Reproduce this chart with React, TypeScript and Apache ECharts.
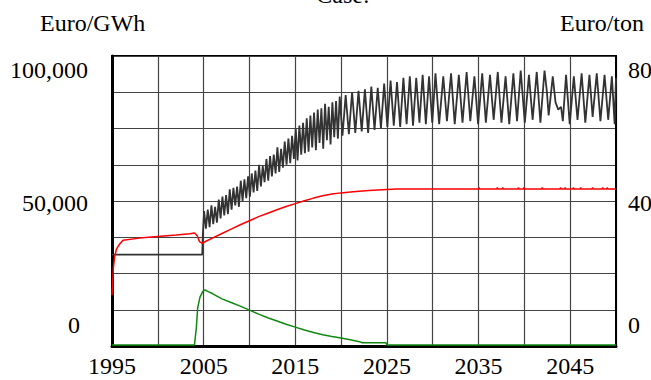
import React, { useEffect, useRef } from "react";
import * as echarts from "echarts";

const FONT = '"Liberation Serif", "Times New Roman", serif';

const chartTitle = "Case:";
const leftUnit = "Euro/GWh";
const rightUnit = "Euro/ton";

const xMin = 1995;
const xMax = 2050;
const leftTickValues = [0, 50000, 100000];
const leftTickLabels = ["0", "50,000", "100,000"];
const rightTickValues = [0, 40, 80];
const rightTickLabels = ["0", "40", "80"];

// Black series (Euro/GWh)
const blackSeries: [number, number][] = [
  [1995, 31500], [2004.85, 31500], [2004.9, 37500], [2005.05, 46500], [2005.25, 40500],
  [2005.45, 47000], [2005.65, 41000], [2005.85, 48500], [2006.05, 42000], [2006.25, 48000],
  [2006.45, 42500], [2006.65, 50500], [2006.85, 44000], [2007.05, 51500], [2007.25, 45000],
  [2007.45, 52000], [2007.65, 45500], [2007.85, 54000], [2008.05, 47000], [2008.25, 54500],
  [2008.45, 48500], [2008.65, 55000], [2008.85, 48000], [2009.05, 57000], [2009.25, 50000],
  [2009.45, 57500], [2009.65, 51000], [2009.85, 58500], [2010.05, 51500], [2010.25, 59500],
  [2010.45, 53000], [2010.65, 60500], [2010.85, 53500], [2011.05, 62500], [2011.25, 55000],
  [2011.45, 62000], [2011.65, 56500], [2011.85, 64500], [2012.05, 57000], [2012.25, 65500],
  [2012.45, 58500], [2012.65, 66000], [2012.85, 59500], [2013.05, 68500], [2013.25, 60000],
  [2013.45, 68000], [2013.65, 61500], [2013.85, 70500], [2014.05, 62500], [2014.25, 71500],
  [2014.45, 63000], [2014.65, 72500], [2014.85, 64500], [2015.05, 75000], [2015.25, 64000],
  [2015.45, 76000], [2015.65, 66000], [2015.85, 77000], [2016.05, 66500], [2016.25, 78500],
  [2016.45, 67000], [2016.65, 79500], [2016.85, 68500], [2017.05, 80500], [2017.25, 67500],
  [2017.45, 81500], [2017.65, 70000], [2017.85, 82000], [2018.05, 68000], [2018.25, 83500],
  [2018.45, 71000], [2018.65, 82500], [2018.85, 69500], [2019.05, 84000], [2019.25, 72000],
  [2019.45, 84500], [2019.65, 71500], [2019.85, 86000],
  [2020.15, 72500], [2020.5, 86500], [2020.85, 73000], [2021.2, 87500], [2021.55, 73500],
  [2021.9, 88000], [2022.25, 74000], [2022.6, 88500], [2022.95, 73500], [2023.3, 89500],
  [2023.65, 74500], [2024.0, 89000], [2024.35, 75000], [2024.7, 90500], [2025.05, 75500],
  [2025.4, 91500], [2025.75, 76000], [2026.1, 91000], [2026.45, 75500], [2026.8, 92500],
  [2027.15, 76500], [2027.5, 93000], [2027.85, 76000], [2028.2, 92500], [2028.55, 77000],
  [2028.9, 93500], [2029.25, 76500], [2029.6, 93000], [2029.95, 77000], [2030.3, 94000],
  [2030.7, 76500], [2031.15, 93000], [2031.55, 77500], [2032.0, 94000], [2032.4, 76500],
  [2032.85, 93500], [2033.25, 77000], [2033.7, 94500], [2034.1, 77500], [2034.55, 93000],
  [2034.95, 76500], [2035.4, 94000], [2035.8, 77000], [2036.25, 93500], [2036.65, 78000],
  [2037.1, 94500], [2037.5, 77000], [2037.95, 93000], [2038.35, 76500], [2038.8, 94000],
  [2039.2, 77500], [2039.6, 95000], [2040.05, 77000], [2040.5, 93500], [2040.9, 78000],
  [2041.35, 94500], [2041.75, 77000], [2042.2, 95000], [2042.45, 88000], [2042.65, 79500],
  [2043.1, 93000], [2043.4, 84000], [2043.7, 81500], [2044.0, 82500], [2044.2, 77500],
  [2044.55, 93500], [2044.95, 76500], [2045.4, 93000], [2045.8, 78000], [2046.25, 94000],
  [2046.65, 77000], [2047.1, 93500], [2047.45, 79000], [2047.9, 94000], [2048.3, 77500],
  [2048.75, 93500], [2049.15, 78000], [2049.55, 93000], [2049.85, 76500], [2050.0, 92500],
];

// Red series (Euro/GWh)
const redSeries: [number, number][] = [
  [1995.0, 17500], [1995.15, 27000], [1995.3, 31000], [1995.5, 33500], [1995.8, 35000],
  [1996.2, 36500], [1998.0, 37200], [2000.0, 37800], [2002.0, 38300], [2003.5, 38700],
  [2004.0, 39000], [2004.3, 38000], [2004.55, 36000], [2004.85, 35400], [2005.3, 36200],
  [2006.0, 37300], [2007.0, 38800], [2008.0, 40300], [2009.0, 41800], [2010.0, 43200],
  [2011.0, 44600], [2012.0, 45800], [2013.0, 47000], [2014.0, 48100], [2015.0, 49100],
  [2016.0, 50100], [2017.0, 51000], [2018.0, 51800], [2019.0, 52400], [2020.0, 52800],
  [2021.0, 53100], [2022.0, 53400], [2023.0, 53600], [2024.0, 53800], [2025.0, 54000],
  [2026.0, 54100], [2035.0, 54100], [2035.05, 54700], [2035.1, 54100], [2037.0, 54100],
  [2037.05, 54700], [2037.1, 54100], [2037.6, 54100], [2037.65, 54700], [2037.7, 54100],
  [2039.3, 54100], [2039.35, 54700], [2039.4, 54100], [2039.9, 54100], [2039.95, 54700],
  [2040.0, 54100], [2041.9, 54100], [2041.95, 54700], [2042.0, 54100], [2043.9, 54100],
  [2043.95, 54700], [2044.0, 54100], [2044.4, 54100], [2044.45, 54700], [2044.5, 54100],
  [2045.3, 54100], [2045.35, 54700], [2045.4, 54100], [2046.1, 54100], [2046.15, 54700],
  [2046.2, 54100], [2047.4, 54100], [2047.45, 54700], [2047.5, 54100], [2048.5, 54100],
  [2048.55, 54700], [2048.6, 54100], [2049.0, 54100], [2049.05, 54700], [2049.1, 54100],
  [2050.0, 54100],
];

// Green series (Euro/ton)
const greenSeries: [number, number][] = [
  [1995.0, 0.3], [2004.0, 0.3], [2004.2, 5.0], [2004.35, 10.5], [2004.6, 13.5],
  [2004.9, 15.0], [2005.15, 15.5], [2005.5, 15.0], [2006.0, 14.4], [2007.0, 13.0],
  [2008.0, 12.0], [2009.0, 11.0], [2010.0, 9.9], [2011.0, 8.8], [2012.0, 7.8],
  [2013.0, 6.9], [2014.0, 6.0], [2015.0, 5.2], [2016.0, 4.4], [2017.0, 3.7],
  [2018.0, 3.1], [2019.0, 2.6], [2020.0, 2.2], [2021.0, 1.7], [2022.0, 1.2],
  [2022.3, 0.9], [2024.9, 0.9], [2025.0, 0.3], [2050.0, 0.3],
];

export default function App() {
  const ref = useRef<HTMLDivElement>(null);

  useEffect(() => {
    document.body.style.margin = "0";
    if (!ref.current) return;
    const chart = echarts.init(ref.current, undefined, { renderer: "svg" });
    const option: any = {
      animation: false,
      backgroundColor: "#ffffff",
      textStyle: { fontFamily: FONT },
      grid: {
        left: 112,
        right: 35,
        top: 56,
        bottom: 34,
        show: true,
        borderColor: "#000",
        borderWidth: 2,
        backgroundColor: "transparent",
      },
      xAxis: {
        type: "value",
        min: xMin,
        max: xMax,
        interval: 5,
        axisLine: { show: true, lineStyle: { color: "#000", width: 3 } },
        axisTick: { show: false },
        splitLine: { show: true, lineStyle: { color: "#444", width: 1.2 } },
        axisLabel: {
          fontFamily: FONT,
          fontSize: 24,
          color: "#000",
          margin: 8,
          formatter: (v: number) => ((v - 1995) % 10 === 0 ? String(v) : ""),
        },
      },
      yAxis: [
        {
          type: "value",
          min: 0,
          max: 100000,
          interval: 12500,
          axisLine: { show: true, lineStyle: { color: "#000", width: 3 } },
          axisTick: { show: false },
          axisLabel: { show: false },
          splitLine: { show: true, lineStyle: { color: "#444", width: 1.2 } },
        },
        {
          type: "value",
          min: 0,
          max: 80,
          interval: 10,
          position: "right",
          axisLine: { show: true, lineStyle: { color: "#000", width: 2 } },
          axisTick: { show: false },
          axisLabel: { show: false },
          splitLine: { show: false },
        },
      ],
      series: [
        {
          type: "line",
          name: "black",
          yAxisIndex: 0,
          data: blackSeries,
          showSymbol: false,
          symbol: "none",
          lineStyle: { color: "#333333", width: 1.8 },
          z: 3,
        },
        {
          type: "line",
          name: "red",
          yAxisIndex: 0,
          data: redSeries,
          showSymbol: false,
          symbol: "none",
          lineStyle: { color: "#ff0000", width: 1.5 },
          z: 4,
        },
        {
          type: "line",
          name: "green",
          yAxisIndex: 1,
          data: greenSeries,
          showSymbol: false,
          symbol: "none",
          lineStyle: { color: "#118811", width: 1.5 },
          z: 4,
        },
      ],
    };
    chart.setOption(option);

    const offsets = [-21, 2, 14];
    const graphics: any[] = [
      {
        type: "text",
        id: "title",
        x: 343,
        y: -5,
        style: { text: chartTitle, font: `24px ${FONT}`, fill: "#000", align: "center", verticalAlign: "middle" },
      },
      {
        type: "text",
        id: "lunit",
        x: 40,
        y: 23,
        style: { text: leftUnit, font: `24px ${FONT}`, fill: "#000", align: "left", verticalAlign: "middle" },
      },
      {
        type: "text",
        id: "runit",
        x: 644,
        y: 23,
        style: { text: rightUnit, font: `24px ${FONT}`, fill: "#000", align: "right", verticalAlign: "middle" },
      },
    ];
    leftTickValues.forEach((v, i) => {
      const py = chart.convertToPixel({ yAxisIndex: 0 }, v) as number;
      graphics.push({
        type: "text",
        id: "ly" + i,
        x: i === 0 ? 80 : 88,
        y: py + offsets[i],
        style: { text: leftTickLabels[i], font: `24px ${FONT}`, fill: "#000", align: "right", verticalAlign: "middle" },
      });
    });
    rightTickValues.forEach((v, i) => {
      const py = chart.convertToPixel({ yAxisIndex: 1 }, v) as number;
      graphics.push({
        type: "text",
        id: "ry" + i,
        x: 628,
        y: py + offsets[i],
        style: { text: rightTickLabels[i], font: `24px ${FONT}`, fill: "#000", align: "left", verticalAlign: "middle" },
      });
    });
    chart.setOption({ graphic: graphics });

    return () => chart.dispose();
  }, []);

  return <div ref={ref} style={{ width: 651, height: 380 }} />;
}
